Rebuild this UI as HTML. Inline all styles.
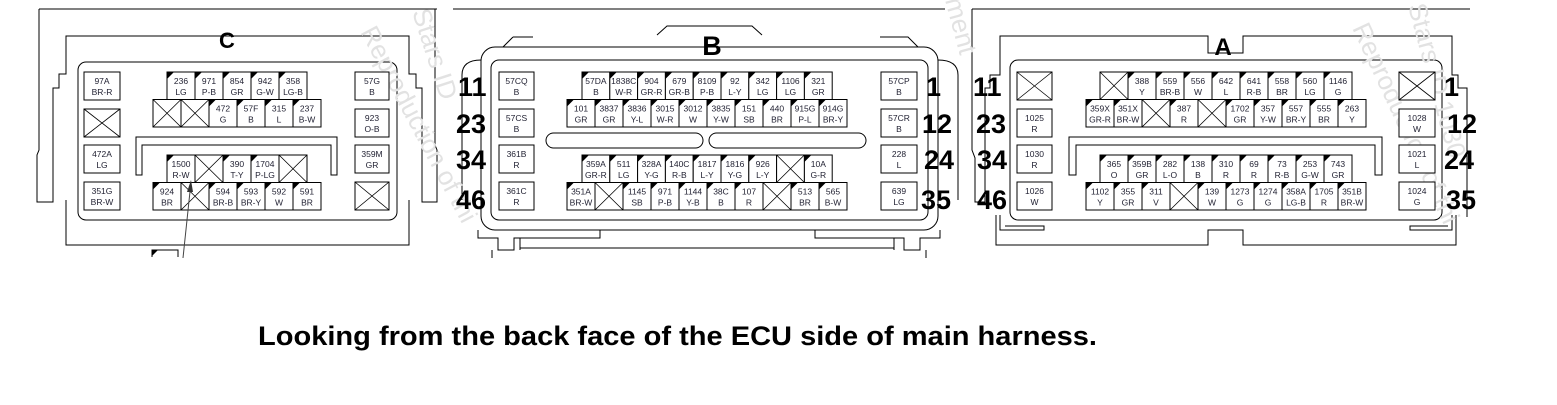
<!DOCTYPE html>
<html><head><meta charset="utf-8">
<style>
html,body{margin:0;padding:0;background:#fff;}
svg{display:block;}
.c{font-family:"Liberation Sans",Arial,sans-serif;font-size:8.5px;fill:#223;text-anchor:middle;}
.n{font-family:"Liberation Sans",Arial,sans-serif;font-weight:bold;font-size:27px;fill:#000;}
.t{font-family:"Liberation Sans",Arial,sans-serif;font-weight:bold;fill:#000;text-anchor:middle;}
.w{font-family:"Liberation Sans",Arial,sans-serif;font-size:26px;fill:#e2e2e2;}
</style></head>
<body>
<svg id="s" width="1557" height="405" viewBox="0 0 1557 405" xmlns="http://www.w3.org/2000/svg">
<g fill="none" stroke="#000" stroke-width="1">
<path d="M39,9 L437,9 M39,9 L39,150 L37,155 L37,202 L53,202 L53,88 L59,88 L59,74 L66,74 L66,36 L409,36 L409,74 L416,74 L416,88 L422,88 L422,202 L437,202 L437,150 L435,145 L435,9"/>
<path d="M66,200 L66,245 L409,245 L409,200"/>
<rect x="78" y="62" width="319" height="158" rx="8"/>
<path d="M136,175 L136,137 L337,137 L337,175 L331,175 L331,145 L142,145 L142,175 Z"/>
<path d="M453,9 L945,9"/>
<path d="M513,37 L533,37 M503,47 L513,37 M657,35 L667,26 L752,26 L762,35 M880,37 L908,37 L918,47"/>
<rect x="481" y="47" width="457" height="183" rx="14"/>
<path d="M481,60 Q462,60 462,75 L462,200 M938,60 Q958,60 958,75 L958,200"/>
<rect x="491" y="60" width="437" height="160" rx="8"/>
<path d="M478,230 L478,238 L498,238 L498,250 L514,250 L514,238 L600,238 L600,230"/>
<path d="M940,230 L940,238 L920,238 L920,250 L904,250 L904,238 L815,238 L815,230"/>
<path d="M520,250 L520,238 M520,248 L894,248 M894,250 L894,238 M492,250 L492,258 M926,250 L926,258"/>
<rect x="546" y="133" width="157" height="15" rx="7.5"/>
<rect x="709" y="133" width="157" height="15" rx="7.5"/>
<path d="M972,9 L1470,9 M972,9 L972,150 L975,158 L975,202 L985,202 L985,88 L990,88 L990,75 L1000,75 L1000,36 L1208,36 L1208,53 L1243,53 L1243,36 L1452,36 L1452,75 L1458,75 L1458,88 L1467,88 L1467,217"/>
<path d="M996,215 L996,245 L1208,245 L1208,230 L1243,230 L1243,245 L1456,245 L1456,215"/>
<path d="M1000,215 L1000,230 L1044,230 L1044,226 L1005,226 M1452,215 L1452,230 L1410,230 L1410,226 L1448,226"/>
<rect x="1010" y="60" width="432" height="160" rx="8"/>
<path d="M1069,175 L1069,137 L1382,137 L1382,175 L1375,175 L1375,145 L1076,145 L1076,175 Z"/>
</g>
<text class="w" transform="translate(412,12) rotate(72)">Stars ID</text>
<text class="w" transform="translate(360,32) rotate(62)">Reproduction of thi</text>
<text class="w" transform="translate(945,0) rotate(75)">ment</text>
<text class="w" transform="translate(1408,6) rotate(75)">Stars ID 1030</text>
<text class="w" transform="translate(1352,28) rotate(65)">Reproduction of thi</text>
<text class="t" x="227" y="48" font-size="22">C</text>
<text class="t" x="712" y="55" font-size="27">B</text>
<text class="t" x="1223" y="55" font-size="24">A</text>
<g id="cells"></g>
<path d="M183,258 L191,182" stroke="#444" stroke-width="1" fill="none"/>
<path d="M191,180 L187,192 L193,192 Z" fill="#333"/>
<path d="M152,257 L152,250 L178,250 L178,257" stroke="#000" fill="none"/>
<path d="M152,250 L158,250 L152,256 Z" fill="#000"/>
<text class="n" x="458" y="96">11</text>
<text class="n" x="456" y="133">23</text>
<text class="n" x="456" y="169">34</text>
<text class="n" x="456" y="209">46</text>
<text class="n" x="926" y="96">1</text>
<text class="n" x="922" y="133">12</text>
<text class="n" x="924" y="169">24</text>
<text class="n" x="921" y="209">35</text>
<text class="n" x="973" y="96">11</text>
<text class="n" x="976" y="133">23</text>
<text class="n" x="977" y="169">34</text>
<text class="n" x="977" y="209">46</text>
<text class="n" x="1444" y="96">1</text>
<text class="n" x="1447" y="133">12</text>
<text class="n" x="1444" y="169">24</text>
<text class="n" x="1446" y="209">35</text>
<text class="t" x="258" y="345" font-size="27" style="text-anchor:start" textLength="839" lengthAdjust="spacingAndGlyphs">Looking from the back face of the ECU side of main harness.</text>
</svg>
<script>
var g=document.getElementById('cells'),h='';
function cell(x,y,w,hh,lab,tri){
  h+='<rect x="'+x+'" y="'+y+'" width="'+w+'" height="'+hh+'" fill="#fff" stroke="#000" stroke-width="1"/>';
  if(lab==='X'){h+='<path d="M'+x+','+y+' L'+(x+w)+','+(y+hh)+' M'+(x+w)+','+y+' L'+x+','+(y+hh)+'" stroke="#000" stroke-width="0.8"/>';return;}
  if(tri)h+='<path d="M'+x+','+y+' L'+(x+7)+','+y+' L'+x+','+(y+7)+' Z" fill="#000"/>';
  var p=lab.split('/'),cx=x+w/2;
  h+='<text class="c" x="'+cx+'" y="'+(y+hh/2-2)+'">'+p[0]+'</text>';
  h+='<text class="c" x="'+cx+'" y="'+(y+hh/2+9)+'">'+p[1]+'</text>';
}
function row(x,y,w,list,tri){list.forEach(function(l,i){cell(x+i*w,y,w,27.5,l,tri);});}
function col(x,w,list){var ys=[72,109,145,182];list.forEach(function(l,i){cell(x,ys[i],w,28,l,false);});}
col(84,36,['97A/BR-R','X','472A/LG','351G/BR-W']);
col(355,34,['57G/B','923/O-B','359M/GR','X']);
row(167,72,28,['236/LG','971/P-B','854/GR','942/G-W','358/LG-B'],true);
row(153,99.5,28,['X','X','472/G','57F/B','315/L','237/B-W'],true);
row(167,155,28,['1500/R-W','X','390/T-Y','1704/P-LG','X'],true);
row(153,182.5,28,['924/BR','X','594/BR-B','593/BR-Y','592/W','591/BR'],true);
col(499,35,['57CQ/B','57CS/B','361B/R','361C/R']);
col(881,36,['57CP/B','57CR/B','228/L','639/LG']);
row(582,72,27.8,['57DA/B','1838C/W-R','904/GR-R','679/GR-B','8109/P-B','92/L-Y','342/LG','1106/LG','321/GR'],true);
row(567,99.5,28,['101/GR','3837/GR','3836/Y-L','3015/W-R','3012/W','3835/Y-W','151/SB','440/BR','915G/P-L','914G/BR-Y'],true);
row(582,155,27.8,['359A/GR-R','511/LG','328A/Y-G','140C/R-B','1817/L-Y','1816/Y-G','926/L-Y','X','10A/G-R'],true);
row(567,182.5,28,['351A/BR-W','X','1145/SB','971/P-B','1144/Y-B','38C/B','107/R','X','513/BR','565/B-W'],true);
col(1017,35,['X','1025/R','1030/R','1026/W']);
col(1399,36,['X','1028/W','1021/L','1024/G']);
row(1100,72,28,['X','388/Y','559/BR-B','556/W','642/L','641/R-B','558/BR','560/LG','1146/G'],true);
row(1086,99.5,28,['359X/GR-R','351X/BR-W','X','387/R','X','1702/GR','357/Y-W','557/BR-Y','555/BR','263/Y'],true);
row(1100,155,28,['365/O','359B/GR','282/L-O','138/B','310/R','69/R','73/R-B','253/G-W','743/GR'],true);
row(1086,182.5,28,['1102/Y','355/GR','311/V','X','139/W','1273/G','1274/G','358A/LG-B','1705/R','351B/BR-W'],true);
g.innerHTML=h;
</script>
</body></html>
